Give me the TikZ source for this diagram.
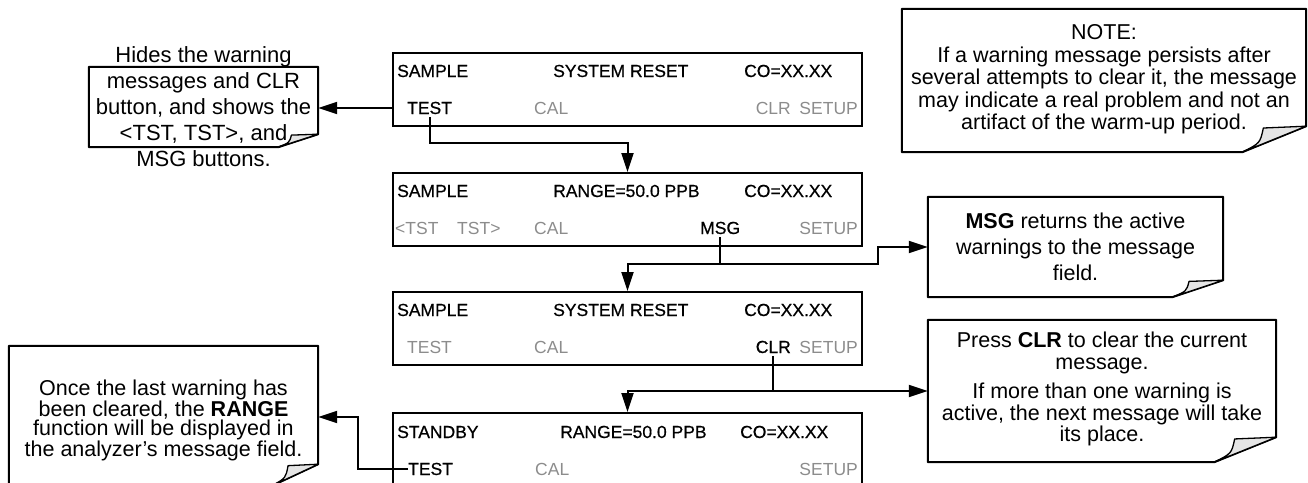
\documentclass[tikz,border=0pt]{standalone}
\usepackage{fontspec}
\setmainfont{Liberation Sans}
\newfontfamily\keyfont[FakeBold=0.6]{Liberation Sans}
\usetikzlibrary{arrows.meta,calc}

\definecolor{keygray}{gray}{0.55}
\definecolor{foldgray}{gray}{0.9}

\tikzset{
  dispbox/.style={draw, line width=2pt, minimum width=469pt, minimum height=73pt, inner sep=0pt},
  disptxt/.style={font=\keyfont\fontsize{17.5}{20}\selectfont, anchor=base west, inner xsep=0pt, inner ysep=2.5pt},
  offkey/.style={disptxt, font=\normalfont\fontsize{17.5}{20}\selectfont, text=keygray},
  notebox/.style={inner sep=0pt},
  notetxt/.style={align=center, inner sep=0pt},
  flow/.style={line width=2pt, -{Triangle[length=19pt,width=12pt]}},
  wire/.style={line width=2pt}
}

%Note outline with folded corner: node, fold width, fold height
\newcommand{\foldnote}[3]{
  \draw [line width=2pt, line join=round] (#1.north west) -- (#1.north east)
    -- ($(#1.south east)+(0,-#3)$) -- ($(#1.south east)+(-#2,0)$) -- (#1.south west) -- cycle;
  \filldraw [line width=1.3pt, fill=foldgray, line join=round] ($(#1.south east)+(-#2,0)$)
    .. controls ($(#1.south east)+(-0.72*#2,-0.35*#3)$) .. ($(#1.south east)+(-0.67*#2,-0.93*#3)$)
    -- ($(#1.south east)+(0,-#3)$) -- cycle;
}

\begin{document}
\begin{tikzpicture}[x=1pt,y=-1pt]

        \useasboundingbox (0,0) rectangle (1308,482);

        %Display 1
        \node[dispbox] (d1) at (627.5,89.5) {};
        \node[disptxt] (s1) at (397,77)  {SAMPLE};
        \node[disptxt] (m1) at (553,77)  {SYSTEM RESET};
        \node[disptxt] (v1) at (744,77)  {CO=XX.XX};
        \node[disptxt] (t1) at (407,114) {TEST};
        \node[offkey]  (a1) at (534,114) {CAL};
        \node[offkey, anchor=base east] (c1) at (791,114) {CLR};
        \node[offkey, anchor=base east] (u1) at (858,114) {SETUP};

        %Display 2
        \node[dispbox] (d2) at (627.5,209.5) {};
        \node[disptxt] (s2) at (397,197) {SAMPLE};
        \node[disptxt] (r2) at (553,197) {RANGE=50.0 PPB};
        \node[disptxt] (v2) at (744,197) {CO=XX.XX};
        \node[offkey]  (p2) at (395,234) {<TST};
        \node[offkey]  (n2) at (457,234) {TST>};
        \node[offkey]  (a2) at (534,234) {CAL};
        \node[disptxt] (g2) at (700,234) {MSG};
        \node[offkey, anchor=base east] (u2) at (858,234) {SETUP};

        %Display 3
        \node[dispbox] (d3) at (627.5,328.5) {};
        \node[disptxt] (s3) at (397,316) {SAMPLE};
        \node[disptxt] (m3) at (553,316) {SYSTEM RESET};
        \node[disptxt] (v3) at (744,316) {CO=XX.XX};
        \node[offkey]  (t3) at (407,353) {TEST};
        \node[offkey]  (a3) at (534,353) {CAL};
        \node[disptxt, anchor=base east] (c3) at (791,353) {CLR};
        \node[offkey, anchor=base east]  (u3) at (858,353) {SETUP};

        %Display 4
        \node[dispbox] (d4) at (627.5,449.5) {};
        \node[disptxt] (s4) at (397,438) {STANDBY};
        \node[disptxt] (r4) at (560,438) {RANGE=50.0 PPB};
        \node[disptxt] (v4) at (740,438) {CO=XX.XX};
        \node[disptxt] (t4) at (408,475) {TEST};
        \node[offkey]  (a4) at (535,475) {CAL};
        \node[offkey, anchor=base east] (u4) at (858,475) {SETUP};

        %Notes
        \node[notebox, minimum width=229pt, minimum height=80pt]  (nhides) at (203.5,107) {};
        \foldnote{nhides}{40}{13}
        \node[notetxt, font=\fontsize{22}{26}\selectfont] at (nhides.center)
          {Hides the warning\\ messages and CLR\\ button, and shows the\\ <TST, TST>, and\\ MSG buttons.};

        \node[notebox, minimum width=404pt, minimum height=143pt] (nnote) at (1104,80.5) {};
        \foldnote{nnote}{64}{26}
        \node[notetxt, font=\fontsize{21.5}{22.5}\selectfont] at ($(nnote.center)+(0,-1)$)
          {NOTE:\\ If a warning message persists after\\ several attempts to clear it, the message\\
           may indicate a real problem and not an\\ artifact of the warm-up period.};

        \node[notebox, minimum width=295pt, minimum height=100pt] (nmsg) at (1075.5,247) {};
        \foldnote{nmsg}{51}{17}
        \node[notetxt, font=\fontsize{21.5}{26}\selectfont] at (nmsg.center)
          {\textbf{MSG} returns the active\\ warnings to the message\\ field.};

        \node[notebox, minimum width=348pt, minimum height=142pt] (nclr) at (1102,391) {};
        \foldnote{nclr}{62}{25}
        \node[notetxt, font=\fontsize{21.5}{21.5}\selectfont] at ($(nclr.center)+(0,-2)$)
          {Press \textbf{CLR} to clear the current\\ message.\\[8pt] If more than one warning is\\
           active, the next message will take\\ its place.};

        \node[notebox, minimum width=309pt, minimum height=139pt] (nonce) at (163.5,415.5) {};
        \foldnote{nonce}{45}{21}
        \node[notetxt, font=\fontsize{21.5}{19}\selectfont] at ($(nonce.center)+(0,5)$)
          {Once the last warning has\\ been cleared, the \textbf{RANGE}\\ function will be displayed in\\
           the analyzer’s message field.};

        %Connectors
        \draw[flow] (d1.west |- t1) -- (nhides.east |- t1);
        \coordinate (j1) at (627.5,143);
        \draw[flow] (t1.south) |- (j1) -- (d2.north);

        \coordinate (j2) at (878,264);
        \draw[flow] (g2.south) |- (d3.north |- j2) -- (d3.north);
        \draw[flow] (g2.south |- j2) -- (j2) |- (nmsg.west);

        \coordinate (j3) at (d4.north |- nclr.west);
        \draw[flow] (c3.south) |- (j3) -- (d4.north);
        \draw[flow] (c3.south |- j3) -- (nclr.west);

        \coordinate (j4) at (358,417);
        \draw[flow] (t4.west) -| (j4) -- (nonce.east |- j4);

\end{tikzpicture}
\end{document}
